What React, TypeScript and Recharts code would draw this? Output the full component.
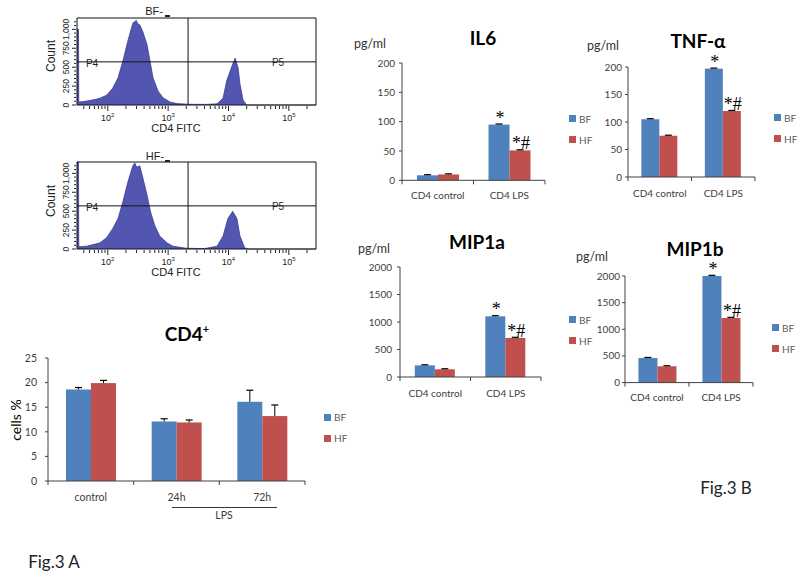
import React from "react";
import {
  BarChart,
  Bar,
  XAxis,
  YAxis,
  Legend,
  LabelList,
  AreaChart,
  Area,
  ReferenceLine,
  ReferenceArea,
} from "recharts";

const BLUE = "#4F81BD";
const RED = "#C0504D";
const AXIS = "#404040";
const FLOW_FILL = "#5256B0";
const FLOW_EDGE = "#2F3290";
const XL_FONT = "Lato, 'Open Sans', sans-serif";
const ARIAL = "'Liberation Sans', Arial, sans-serif";
const SERIF = "'Liberation Serif', 'DejaVu Serif', serif";

// Flow histograms: x = log10(CD4 FITC), y = event count
const bfLog = [1.49, 1.515, 1.52, 1.6, 1.7, 1.8, 1.87, 1.98, 2.08, 2.17, 2.25, 2.33, 2.4, 2.42, 2.45, 2.47, 2.5, 2.53, 2.58, 2.65, 2.7, 2.75, 2.83, 2.91, 3.03, 3.14, 3.33, 3.6, 3.81, 3.91, 3.97, 4.06, 4.11, 4.16, 4.19, 4.24, 4.3, 4.6, 5.45];
const bfCount = [1000, 1000, 40, 45, 60, 75, 90, 130, 220, 360, 580, 840, 1040, 1090, 1100, 1120, 1070, 1060, 970, 800, 580, 360, 190, 100, 40, 20, 10, 8, 15, 90, 320, 520, 620, 490, 280, 70, 0, 0, 0];
const hfLog = [1.49, 1.515, 1.52, 1.65, 1.87, 1.98, 2.08, 2.17, 2.25, 2.33, 2.415, 2.448, 2.48, 2.53, 2.58, 2.65, 2.71, 2.78, 2.86, 2.98, 3.08, 3.3, 3.6, 3.81, 3.91, 3.99, 4.07, 4.14, 4.19, 4.27, 4.35, 5.45];
const hfCount = [1150, 1150, 30, 37, 81, 150, 267, 403, 624, 878, 1099, 1136, 1080, 1099, 946, 715, 488, 308, 172, 81, 37, 10, 5, 37, 172, 403, 498, 403, 172, 14, 0, 0];
const countTicks = [0, 50, 100, 150, 200, 250, 300, 350, 400, 450, 500, 550, 600, 650, 700, 750, 800, 850, 900, 950, 1000, 1050, 1100];
const logTicks: number[] = [];
for (let d = 1; d <= 5; d++) {
  for (let k = 1; k <= 9; k++) {
    const t = Number((d + Math.log10(k)).toFixed(4));
    if (t >= 1.49 && t <= 5.45) logTicks.push(t);
  }
}

// CD4+ cells %
const cd4Groups = ["control", "24h", "72h"];
const cd4BF = [18.6, 12.1, 16.1];
const cd4HF = [19.9, 11.9, 13.2];
const cd4BFErr = [0.4, 0.55, 2.35];
const cd4HFErr = [0.55, 0.5, 2.25];
const noMarks = ["", "", ""];

// Cytokines, pg/ml
const cytoGroups = ["CD4 control", "CD4 LPS"];
const il6BF = [8.5, 95];
const il6HF = [10, 51];
const tnfBF = [105, 197];
const tnfHF = [75, 120];
const mip1aBF = [212, 1103];
const mip1aHF = [140, 710];
const mip1bBF = [462, 2000];
const mip1bHF = [306, 1212];
const smallErr = [1, 1];
const mipErr = [10, 12];
const bfMarks = ["", "*"];
const hfMarks = ["", "*#"];

function buildRows(groups: string[], bf: number[], hf: number[], bfErr: number[], hfErr: number[], bfM: string[], hfM: string[]) {
  return groups.map((g, i) => ({
    group: g,
    bf: bf[i],
    hf: hf[i],
    bfErr: bfErr[i],
    hfErr: hfErr[i],
    bfMark: bfM[i],
    hfMark: hfM[i],
  }));
}

function Txt({ x, y, size, bold, family, color, rotate, children }: any) {
  return (
    <div
      style={{
        position: "absolute",
        left: x,
        top: y,
        transform: `translate(-50%, -50%)${rotate ? ` rotate(${rotate}deg)` : ""}`,
        fontSize: size,
        fontWeight: bold ? "bold" : "normal",
        fontFamily: family || XL_FONT,
        color: color || "#000",
        whiteSpace: "nowrap",
        lineHeight: 1,
      }}
    >
      {children}
    </div>
  );
}

// bar with plus-only error whisker, like Excel
const errShape = (valKey: string, errKey: string) => (props: any) => {
  const { x, y, width, height, fill, payload } = props;
  const v = payload[valKey];
  const e = payload[errKey];
  const k = v ? height / v : 0;
  const top = y - e * k;
  const cx = x + width / 2;
  return (
    <g>
      <rect x={x} y={y} width={width} height={height} fill={fill} />
      <line x1={cx} x2={cx} y1={y} y2={top} stroke="#000" strokeWidth={1} />
      <line x1={cx - 3.5} x2={cx + 3.5} y1={top} y2={top} stroke="#000" strokeWidth={1.2} />
    </g>
  );
};

function MarkLabel(props: any) {
  const { x, y, width, value } = props;
  if (!value) return null;
  return (
    <text x={x + width / 2 + 1} y={y - 1} textAnchor="middle" fontFamily={SERIF} fontSize={18} fill="#000">
      {value}
    </text>
  );
}

function LegendBox(props: any) {
  const { payload } = props;
  return (
    <div>
      {(payload || []).map((p: any) => (
        <div key={p.value} style={{ display: "flex", alignItems: "center", height: 21 }}>
          <span style={{ width: 7, height: 7, background: p.color, marginRight: 3, display: "inline-block" }} />
          <span style={{ fontSize: 10, color: "#595959", fontFamily: XL_FONT, lineHeight: 1 }}>{p.value}</span>
        </div>
      ))}
    </div>
  );
}

function CatTick(props: any) {
  const { x, y, payload, index, bw, n, fontSize, dy } = props;
  return (
    <g>
      <line x1={x - bw / 2} x2={x - bw / 2} y1={y} y2={y + 4} stroke={AXIS} />
      {index === n - 1 && <line x1={x + bw / 2} x2={x + bw / 2} y1={y} y2={y + 4} stroke={AXIS} />}
      <text x={x} y={y + dy} textAnchor="middle" fontSize={fontSize} fill={AXIS} fontFamily={XL_FONT}>
        {payload.value}
      </text>
    </g>
  );
}

type Plot = { x0: number; y0: number; x1: number; y1: number };

function BarPanel({ rows, plot, yMax, yTicks, legendAt, yw, mr, fontSize, tickGap, dy }: any) {
  const p: Plot = plot;
  const mT = 28;
  const XH = 30;
  const left = p.x0 - yw;
  const top = p.y0 - mT;
  const width = p.x1 - p.x0 + yw + mr;
  const height = p.y1 - p.y0 + mT + XH;
  const bw = (p.x1 - p.x0) / rows.length;
  return (
    <div style={{ position: "absolute", left, top }}>
      <BarChart
        width={width}
        height={height}
        data={rows}
        margin={{ top: mT, right: mr, left: 0, bottom: 0 }}
        barCategoryGap="21%"
        barGap={0}
      >
        <XAxis
          dataKey="group"
          height={XH}
          tickLine={false}
          tickSize={0}
          tickMargin={0}
          stroke={AXIS}
          interval={0}
          tick={(t: any) => <CatTick {...t} bw={bw} n={rows.length} fontSize={fontSize} dy={dy} />}
        />
        <YAxis
          width={yw}
          domain={[0, yMax]}
          ticks={yTicks}
          interval={0}
          tickSize={3}
          tickMargin={tickGap}
          stroke={AXIS}
          tick={{ fontSize, fill: AXIS, fontFamily: XL_FONT }}
        />
        <Legend
          layout="horizontal"
          verticalAlign="middle"
          align="center"
          content={LegendBox}
          wrapperStyle={{ left: legendAt.x - left, top: legendAt.y - 10.5 - top, width: 30, height: 42 }}
        />
        <Bar dataKey="bf" name="BF" fill={BLUE} shape={errShape("bf", "bfErr")} isAnimationActive={false}>
          <LabelList dataKey="bfMark" content={MarkLabel} />
        </Bar>
        <Bar dataKey="hf" name="HF" fill={RED} shape={errShape("hf", "hfErr")} isAnimationActive={false}>
          <LabelList dataKey="hfMark" content={MarkLabel} />
        </Bar>
      </BarChart>
    </div>
  );
}

function FlowXTick(props: any) {
  const { x, y, payload } = props;
  const v = payload.value;
  const major = Number.isInteger(v);
  return (
    <g>
      <line x1={x} x2={x} y1={y + 1} y2={y + (major ? 6 : 4)} stroke="#222" />
      {major && (
        <text x={x} y={y + 16} textAnchor="middle" fontSize={9} fontFamily={ARIAL} fill="#222">
          10
          <tspan fontSize={6} dy={-4}>
            {v}
          </tspan>
        </text>
      )}
    </g>
  );
}

function FlowYTick(props: any) {
  const { x, y, payload } = props;
  const v = payload.value;
  const major = v % 250 === 0;
  return (
    <g>
      <line x1={x - (major ? 5 : 3)} x2={x - 1} y1={y} y2={y} stroke="#222" />
      {major && (
        <text
          x={x - 8}
          y={y}
          transform={`rotate(-90, ${x - 8}, ${y})`}
          textAnchor="middle"
          fontSize={8.5}
          fontFamily={ARIAL}
          fill="#222"
        >
          {v.toLocaleString("en-US")}
        </text>
      )}
    </g>
  );
}

function FlowPanel({ logs, counts, top }: any) {
  const rows = logs.map((v: number, i: number) => ({ v, c: counts[i] }));
  const x0 = 77;
  const x1 = 316;
  const h = 87;
  const YW = 45;
  const mT = 5;
  const mR = 5;
  const XH = 30;
  return (
    <div style={{ position: "absolute", left: x0 - YW, top: top - mT }}>
      <AreaChart
        width={x1 - x0 + YW + mR}
        height={h + mT + XH}
        data={rows}
        margin={{ top: mT, right: mR, left: 0, bottom: 0 }}
      >
        <XAxis
          dataKey="v"
          type="number"
          domain={[1.49, 5.45]}
          ticks={logTicks}
          interval={0}
          allowDataOverflow
          height={XH}
          axisLine={false}
          tickLine={false}
          tickSize={0}
          tickMargin={0}
          tick={FlowXTick}
        />
        <YAxis
          type="number"
          domain={[0, 1150]}
          ticks={countTicks}
          interval={0}
          width={YW}
          axisLine={false}
          tickLine={false}
          tickSize={0}
          tickMargin={0}
          tick={FlowYTick}
        />
        <Area
          type="linear"
          dataKey="c"
          stroke={FLOW_EDGE}
          strokeWidth={0.7}
          fill={FLOW_FILL}
          fillOpacity={1}
          dot={false}
          activeDot={false}
          isAnimationActive={false}
        />
        <ReferenceArea x1={1.49} x2={5.45} y1={0} y2={1150} fill="none" stroke="#111" strokeWidth={1} />
        <ReferenceLine x={3.33} stroke="#111" strokeWidth={1} />
        <ReferenceLine y={570} stroke="#111" strokeWidth={1} />
      </AreaChart>
    </div>
  );
}

export default function App() {
  const cd4Rows = buildRows(cd4Groups, cd4BF, cd4HF, cd4BFErr, cd4HFErr, noMarks, noMarks);
  const il6Rows = buildRows(cytoGroups, il6BF, il6HF, smallErr, smallErr, bfMarks, hfMarks);
  const tnfRows = buildRows(cytoGroups, tnfBF, tnfHF, smallErr, smallErr, bfMarks, hfMarks);
  const mip1aRows = buildRows(cytoGroups, mip1aBF, mip1aHF, mipErr, mipErr, bfMarks, hfMarks);
  const mip1bRows = buildRows(cytoGroups, mip1bBF, mip1bHF, mipErr, mipErr, bfMarks, hfMarks);

  return (
    <div
      style={{
        position: "absolute",
        left: 0,
        top: 0,
        width: 800,
        height: 575,
        background: "#fff",
        overflow: "hidden",
      }}
    >
      {/* Fig.3 A: flow histograms */}
      <FlowPanel logs={bfLog} counts={bfCount} top={18} />
      <FlowPanel logs={hfLog} counts={hfCount} top={162} />
      <Txt x={154} y={11} size={11} family={ARIAL} color="#222">BF-</Txt>
      <div style={{ position: "absolute", left: 165, top: 15, width: 5, height: 1.5, background: "#222" }} />
      <Txt x={155} y={156} size={11} family={ARIAL} color="#222">HF-</Txt>
      <div style={{ position: "absolute", left: 165, top: 160, width: 5, height: 1.5, background: "#222" }} />
      <Txt x={51} y={56} size={12} family={ARIAL} color="#222" rotate={-90}>Count</Txt>
      <Txt x={51} y={201} size={12} family={ARIAL} color="#222" rotate={-90}>Count</Txt>
      <Txt x={176} y={128} size={11} family={ARIAL} color="#222">CD4 FITC</Txt>
      <Txt x={176} y={272} size={11} family={ARIAL} color="#222">CD4 FITC</Txt>
      <Txt x={92} y={64} size={10} family={ARIAL} color="#222">P4</Txt>
      <Txt x={278} y={63} size={10} family={ARIAL} color="#222">P5</Txt>
      <Txt x={92} y={208} size={10} family={ARIAL} color="#222">P4</Txt>
      <Txt x={278} y={207} size={10} family={ARIAL} color="#222">P5</Txt>

      {/* Fig.3 A: CD4+ % */}
      <Txt x={187} y={333} size={19} bold>
        CD4<sup style={{ fontSize: 11, verticalAlign: "super" }}>+</sup>
      </Txt>
      <Txt x={16} y={420} size={14} rotate={-90}>cells %</Txt>
      <BarPanel
        rows={cd4Rows}
        plot={{ x0: 48, y0: 358, x1: 305, y1: 481 }}
        yMax={25}
        yTicks={[0, 5, 10, 15, 20, 25]}
        legendAt={{ x: 324, y: 417 }}
        yw={48}
        mr={45}
        fontSize={10.5}
        tickGap={8}
        dy={20}
      />
      <div style={{ position: "absolute", left: 172, top: 507, width: 105, height: 1, background: "#333" }} />
      <Txt x={224} y={515} size={10.5} color={AXIS}>LPS</Txt>
      <Txt x={54} y={561} size={17} color="#222">Fig.3 A</Txt>

      {/* Fig.3 B: cytokines */}
      <Txt x={483} y={37} size={19} bold>IL6</Txt>
      <Txt x={370} y={44} size={12.5} color="#333">pg/ml</Txt>
      <BarPanel
        rows={il6Rows}
        plot={{ x0: 402, y0: 62.7, x1: 545, y1: 180 }}
        yMax={200}
        yTicks={[0, 50, 100, 150, 200]}
        legendAt={{ x: 569, y: 119 }}
        yw={45}
        mr={45}
        fontSize={10}
        tickGap={4}
        dy={18.5}
      />

      <Txt x={698} y={40} size={19} bold>TNF-α</Txt>
      <Txt x={603} y={46} size={12.5} color="#333">pg/ml</Txt>
      <BarPanel
        rows={tnfRows}
        plot={{ x0: 628, y0: 66.7, x1: 755, y1: 176.7 }}
        yMax={200}
        yTicks={[0, 50, 100, 150, 200]}
        legendAt={{ x: 774, y: 118 }}
        yw={35}
        mr={45}
        fontSize={10}
        tickGap={3}
        dy={19.5}
      />

      <Txt x={477} y={241} size={19} bold>MIP1a</Txt>
      <Txt x={374} y={249} size={12.5} color="#333">pg/ml</Txt>
      <BarPanel
        rows={mip1aRows}
        plot={{ x0: 400, y0: 266.7, x1: 541, y1: 376.7 }}
        yMax={2000}
        yTicks={[0, 500, 1000, 1500, 2000]}
        legendAt={{ x: 569, y: 320 }}
        yw={40}
        mr={45}
        fontSize={10}
        tickGap={5}
        dy={19.5}
      />

      <Txt x={695} y={248} size={19} bold>MIP1b</Txt>
      <Txt x={592} y={257} size={12.5} color="#333">pg/ml</Txt>
      <BarPanel
        rows={mip1bRows}
        plot={{ x0: 625, y0: 275.7, x1: 753, y1: 382.3 }}
        yMax={2000}
        yTicks={[0, 500, 1000, 1500, 2000]}
        legendAt={{ x: 772, y: 328 }}
        yw={40}
        mr={45}
        fontSize={10}
        tickGap={2}
        dy={18}
      />

      <Txt x={726} y={487} size={17} color="#222">Fig.3 B</Txt>
    </div>
  );
}
